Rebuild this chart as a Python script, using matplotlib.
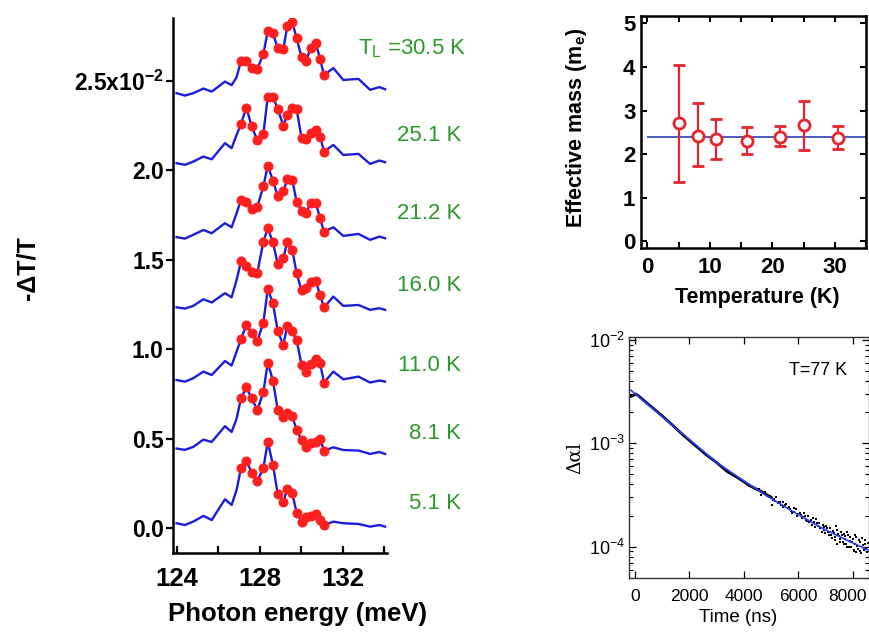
import matplotlib
matplotlib.use("Agg")
import matplotlib.pyplot as plt
import matplotlib.transforms as mtransforms
import numpy as np

plt.rcParams["font.family"] = ["Liberation Sans", "DejaVu Sans"]
plt.rcParams["mathtext.fontset"] = "custom"
plt.rcParams["mathtext.rm"] = "Liberation Sans"
plt.rcParams["mathtext.bf"] = "Liberation Sans:bold"
plt.rcParams["mathtext.it"] = "Liberation Sans:italic"

# ---------------- left panel: -dT/T spectra (units of 1e-2) ----------------
offsets = [0.0, 0.4, 0.8, 1.2, 1.6, 2.0, 2.4]
labels = ["5.1 K", "8.1 K", "11.0 K", "16.0 K", "21.2 K", "25.1 K", "=30.5 K"]
label_y = [0.136, 0.532, 0.907, 1.355, 1.756, 2.193, 2.678]

wing_left_E = [124.0, 124.40, 124.80, 125.29, 125.69, 126.33, 126.65, 126.89]
dot_E = [127.10, 127.36, 127.61, 127.89, 128.18, 128.39, 128.64, 128.87, 129.14,
         129.33, 129.57, 129.78, 130.02, 130.23, 130.46, 130.70, 130.91, 131.10]
wing_right_E = [131.55, 132.03, 132.76, 133.32, 133.77, 134.04]

wing_left = [
    [0.028, 0.018, 0.037, 0.069, 0.046, 0.162, 0.130, 0.214],   # 5.1 K
    [0.045, 0.038, 0.054, 0.095, 0.082, 0.170, 0.138, 0.212],   # 8.1 K
    [0.028, 0.019, 0.038, 0.075, 0.056, 0.134, 0.109, 0.187],   # 11.0 K
    [0.034, 0.027, 0.042, 0.079, 0.061, 0.113, 0.090, 0.187],   # 16.0 K
    [0.026, 0.018, 0.039, 0.066, 0.048, 0.104, 0.081, 0.160],   # 21.2 K
    [0.039, 0.030, 0.048, 0.076, 0.061, 0.151, 0.123, 0.197],   # 25.1 K
    [0.030, 0.017, 0.030, 0.056, 0.039, 0.095, 0.075, 0.119],   # 30.5 K
]
dots = [
    [0.335, 0.378, 0.311, 0.266, 0.335, 0.484, 0.354, 0.192, 0.149,
     0.218, 0.195, 0.087, 0.037, 0.061, 0.069, 0.080, 0.046, 0.018],
    [0.326, 0.387, 0.326, 0.261, 0.360, 0.525, 0.425, 0.261, 0.220,
     0.246, 0.227, 0.149, 0.093, 0.052, 0.075, 0.084, 0.097, 0.034],
    [0.256, 0.335, 0.289, 0.246, 0.349, 0.535, 0.457, 0.302, 0.224,
     0.330, 0.299, 0.252, 0.112, 0.075, 0.118, 0.144, 0.122, 0.014],
    [0.290, 0.265, 0.234, 0.228, 0.401, 0.476, 0.397, 0.277, 0.308,
     0.401, 0.355, 0.224, 0.128, 0.141, 0.178, 0.183, 0.103, 0.034],
    [0.234, 0.225, 0.182, 0.197, 0.309, 0.426, 0.342, 0.256, 0.281,
     0.350, 0.346, 0.225, 0.174, 0.163, 0.216, 0.219, 0.132, 0.057],
    [0.259, 0.350, 0.247, 0.166, 0.203, 0.411, 0.411, 0.342, 0.249,
     0.309, 0.346, 0.342, 0.179, 0.173, 0.207, 0.225, 0.188, 0.104],
    [0.211, 0.211, 0.170, 0.166, 0.250, 0.375, 0.365, 0.281, 0.276,
     0.403, 0.428, 0.337, 0.231, 0.212, 0.281, 0.313, 0.220, 0.132],
]
wing_right = [
    [0.037, 0.028, 0.024, 0.009, 0.018, 0.009],
    [0.052, 0.037, 0.034, 0.015, 0.026, 0.015],
    [0.075, 0.032, 0.047, 0.014, 0.025, 0.019],
    [0.094, 0.042, 0.047, 0.020, 0.029, 0.020],
    [0.081, 0.033, 0.044, 0.011, 0.029, 0.020],
    [0.141, 0.085, 0.091, 0.035, 0.054, 0.045],
    [0.170, 0.104, 0.110, 0.049, 0.064, 0.052],
]

# ---------------- top right: effective mass ----------------
temperature = [5.1, 8.1, 11.0, 16.0, 21.2, 25.1, 30.5]
mass = [2.71, 2.42, 2.34, 2.31, 2.40, 2.66, 2.38]
mass_hi = [4.04, 3.17, 2.81, 2.62, 2.65, 3.23, 2.65]
mass_lo = [1.36, 1.72, 1.88, 2.00, 2.19, 2.10, 2.12]
mass_fit = 2.40

# ---------------- bottom right: decay at 77 K ----------------
decay_t = [-150, -60, 30, 150, 400, 650, 1000, 1400, 1800, 2200, 2600, 3000,
           3400, 3800, 4200, 4600, 5000]
decay_v = [2.85e-3, 2.9e-3, 3.0e-3, 2.85e-3, 2.5e-3, 2.2e-3, 1.84e-3, 1.48e-3,
           1.18e-3, 9.6e-4, 7.8e-4, 6.5e-4, 5.3e-4, 4.6e-4, 3.9e-4, 3.45e-4, 3.0e-4]
scatter_t = [5115, 5176, 5238, 5360, 5422, 5544, 5667, 5728, 5851, 5912,
             5974, 6096, 6158, 6219, 6342, 6403, 6526, 6587, 6710, 6771,
             6894, 6955, 7016, 7078, 7139, 7200, 7262, 7323, 7384, 7446,
             7507, 7568, 7630, 7691, 7752, 7814, 7875, 7937, 7998, 8059,
             8120, 8182, 8243, 8304, 8366, 8427, 8488, 7777, 8022, 7654,
             5029, 4624, 4195, 6280, 6648,
             4400, 4480, 4550, 4700, 4760, 4850, 4900, 4960, 5080, 5150,
             5270, 5330, 5450, 5500, 5600, 5700, 5780, 5820, 5950, 6050,
             6130, 6250, 6320, 6450, 6480, 6560, 6620, 6690, 6800, 6850,
             6920, 6990, 7050, 7110, 7170, 7230, 7290, 7350, 7420, 7480,
             7540, 7600, 7660, 7720, 7790, 7850, 7900, 7960, 8030, 8090,
             8150, 8210, 8270, 8330, 8400, 8450, 8520, 8560, 8100, 7400]
scatter_v = [2.87e-4, 3.04e-4, 2.62e-4, 2.53e-4, 2.70e-4, 2.58e-4, 2.44e-4, 2.23e-4, 2.18e-4, 2.29e-4,
             2.07e-4, 2.02e-4, 1.92e-4, 2.10e-4, 1.98e-4, 1.74e-4, 1.88e-4, 1.68e-4, 1.58e-4, 1.70e-4,
             1.62e-4, 1.45e-4, 1.58e-4, 1.39e-4, 1.50e-4, 1.29e-4, 1.43e-4, 1.23e-4, 1.58e-4, 1.32e-4,
             1.19e-4, 1.39e-4, 1.12e-4, 1.26e-4, 1.06e-4, 1.29e-4, 1.14e-4, 9.84e-5, 1.19e-4, 1.06e-4,
             1.25e-4, 9.40e-5, 1.11e-4, 8.73e-5, 1.03e-4, 1.16e-4, 9.40e-5, 9.84e-5, 9.12e-5, 1.32e-4,
             2.53e-4, 3.15e-4, 3.86e-4, 1.81e-4, 1.84e-4,
             3.62e-4, 3.50e-4, 3.60e-4, 3.30e-4, 3.38e-4, 3.12e-4, 3.05e-4, 3.10e-4, 2.85e-4, 2.78e-4,
             2.68e-4, 2.72e-4, 2.42e-4, 2.55e-4, 2.36e-4, 2.32e-4, 2.12e-4, 2.35e-4, 2.00e-4, 2.12e-4,
             1.90e-4, 1.96e-4, 1.78e-4, 1.80e-4, 1.62e-4, 1.75e-4, 1.55e-4, 1.70e-4, 1.52e-4, 1.38e-4,
             1.55e-4, 1.35e-4, 1.50e-4, 1.30e-4, 1.40e-4, 1.20e-4, 1.36e-4, 1.15e-4, 1.45e-4, 1.28e-4,
             1.10e-4, 1.30e-4, 1.05e-4, 1.18e-4, 1.38e-4, 1.00e-4, 1.25e-4, 1.12e-4, 9.30e-5, 1.30e-4,
             1.02e-4, 1.15e-4, 9.00e-5, 1.20e-4, 9.20e-5, 1.05e-4, 8.80e-5, 1.08e-4, 8.90e-5, 1.06e-4]
fit_t = [-160, 880, 1990, 2970, 3950, 4930, 5910, 6890, 7880, 8550]
fit_v = [3.28e-3, 1.93e-3, 1.09e-3, 6.6e-4, 4.4e-4, 3.0e-4, 2.1e-4, 1.5e-4, 1.12e-4, 9.3e-5]

BLUE = "#1c1cdc"
RED = "#ff1f1f"
GREEN = "#2a9a2a"

fig = plt.figure(figsize=(8.7, 6.32), dpi=100)

# ---- left panel
ax1 = fig.add_axes([0.1994, 0.1245, 0.2451, 0.847])
for i, off in enumerate(offsets):
    e_all = wing_left_E + dot_E + wing_right_E
    v_all = np.array(wing_left[i] + dots[i] + wing_right[i]) + off
    ax1.plot(e_all, v_all, color=BLUE, lw=1.7, zorder=2)
    ax1.plot(dot_E, np.array(dots[i]) + off, "o", color=RED, ms=6.2, mec=RED, zorder=3)
    if i == len(offsets) - 1:
        ax1.text(132.74, label_y[i], r"T$_\mathregular{L}$ " + labels[i], color=GREEN,
                 fontsize=16, ha="left", va="center", clip_on=False)
    else:
        ax1.text(137.70, label_y[i], labels[i], color=GREEN, fontsize=16,
                 ha="right", va="center", clip_on=False)

ax1.set_xlim(123.85, 134.12)
ax1.set_ylim(-0.14, 2.85)
ax1.spines["top"].set_visible(False)
ax1.spines["right"].set_visible(False)
for s in ("left", "bottom"):
    ax1.spines[s].set_linewidth(1.8)
ax1.set_xticks([124, 128, 132])
ax1.set_xticks([126, 130, 134], minor=True)
ax1.set_xticklabels(["124", "128", "132"], fontweight="bold", fontsize=18.5)
ax1.tick_params(axis="x", which="both", direction="in", length=5, width=1.6, pad=10)
ax1.set_yticks([0, 0.5, 1.0, 1.5, 2.0, 2.5])
ax1.set_yticklabels(["0.0", "0.5", "1.0", "1.5", "2.0", r"2.5x10$^{\mathbf{-2}}$"],
                    fontweight="bold", fontsize=16.5)
ax1.tick_params(axis="y", direction="out", length=5, width=1.6, pad=2)
fig.text(28 / 870, 1 - 268 / 632, "-\u0394T/T", rotation=90, fontsize=18,
         fontweight="bold", ha="center", va="center")
fig.text(298 / 870, 1 - 614 / 632, "Photon energy (meV)", fontsize=18.5,
         fontweight="bold", ha="center", va="center")

# ---- top right panel
ax2 = fig.add_axes([0.7368, 0.6071, 0.2586, 0.3676])
ax2.hlines(mass_fit, 0, 35, color="#3a4fb8", lw=1.3, zorder=1)
yerr = [np.array(mass) - np.array(mass_lo), np.array(mass_hi) - np.array(mass)]
ax2.errorbar(temperature, mass, yerr=yerr, fmt="o", color="#e8242c", mfc="white",
             mec="#e8242c", ms=8, mew=2, elinewidth=1.6, capsize=4.5, capthick=1.6, zorder=3)
ax2.set_xlim(-1, 35)
ax2.set_ylim(-0.16, 5.17)
ax2.set_xticks([0, 10, 20, 30])
ax2.set_xticks([5, 15, 25, 35], minor=True)
ax2.set_yticks([0, 1, 2, 3, 4, 5])
for s in ax2.spines.values():
    s.set_linewidth(1.8)
ax2.tick_params(which="both", direction="in", length=4, width=1.5, top=True, right=True,
                labelsize=16)
ax2.tick_params(axis="x", which="both", pad=6)
ax2.tick_params(axis="y", pad=4)
for lab in ax2.get_xticklabels() + ax2.get_yticklabels():
    lab.set_fontweight("bold")
fig.text(577 / 870, 1 - 128 / 632, r"Effective mass (m$_\mathbf{e}$)", rotation=90,
         fontsize=15.5, fontweight="bold", ha="center", va="center")
fig.text(757 / 870, 1 - 297 / 632, "Temperature (K)", fontsize=15.5, fontweight="bold",
         ha="center", va="center")

# ---- bottom right panel
ax3 = fig.add_axes([0.7230, 0.0859, 0.2762, 0.3813])
ax3.set_yscale("log")
ax3.plot(decay_t, decay_v, color="black", lw=2.0, zorder=2)
ax3.plot(scatter_t, scatter_v, "s", color="black", ms=2.0, mew=0, zorder=2)
ax3.plot(fit_t, fit_v, color="#2a3cff", lw=1.2, zorder=3)
ax3.set_xlim(-220, 8600)
ax3.set_ylim(5.0e-5, 1.076e-2)
ax3.set_xticks([0, 2000, 4000, 6000, 8000])
for s in ax3.spines.values():
    s.set_linewidth(1.0)
    s.set_color("#333333")
ax3.tick_params(which="major", direction="in", length=5, width=0.9, top=True, right=True,
                labelsize=13)
ax3.tick_params(axis="x", labelsize=12.5, pad=8)
ax3.tick_params(which="minor", direction="in", length=3, width=0.8, right=True)
ax3.tick_params(axis="y", pad=3)
shift = mtransforms.ScaledTranslation(-5 / 100, 0, fig.dpi_scale_trans)
last_lab = ax3.get_xticklabels()[-1]
last_lab.set_transform(last_lab.get_transform() + shift)
ax3.text(5660, 5.1e-3, "T=77 K", fontsize=13, ha="left", va="center")
fig.text(738 / 870, 1 - 618 / 632, "Time (ns)", fontsize=13.5, ha="center", va="center")
fig.text(575 / 870, 1 - 458 / 632, "\u0394\u03b1l", rotation=90, fontsize=13.5,
         ha="center", va="center", family="DejaVu Serif")

fig.savefig("out.png", dpi=100)
